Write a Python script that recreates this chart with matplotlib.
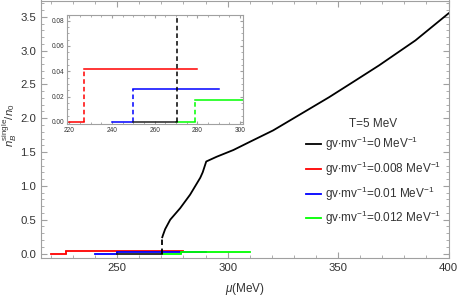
import numpy as np
import matplotlib
matplotlib.use("Agg")
import matplotlib.pyplot as plt
from matplotlib.ticker import MultipleLocator

plt.rcParams['font.family'] = ['Liberation Sans', 'DejaVu Sans']
plt.rcParams['mathtext.fontset'] = 'custom'
plt.rcParams['mathtext.rm'] = 'Liberation Sans'
plt.rcParams['mathtext.it'] = 'Liberation Sans:italic'

# step curves: [start, jump, jump, end] / [0, 0, height, height]
red_mu = [220, 226.7, 226.7, 280]
red_n = [0, 0, 0.042, 0.042]
blue_mu = [240, 250, 250, 290]
blue_n = [0, 0, 0.026, 0.026]
green_mu = [270, 278.7, 278.7, 310]
green_n = [0, 0, 0.017, 0.017]

# gv/mv = 0 curve
black_flat_mu = [250, 270.4]
black_flat_n = [0, 0]
black_jump_mu = [270.4, 270.4]
black_jump_n = [0, 0.24]
black_mu = [270.4, 270.7, 271.7, 274, 278.5, 283, 287.6, 288.7, 289.8, 290.3,
            295, 302.6, 310, 320.6, 333, 345.9, 357, 368.5, 385, 400]
black_n = [0.24, 0.27, 0.36, 0.5, 0.67, 0.87, 1.12, 1.2, 1.31, 1.36,
           1.43, 1.53, 1.65, 1.82, 2.06, 2.31, 2.54, 2.78, 3.15, 3.55]

labels = [r'gv$\cdot$mv$^{-1}$=0 MeV$^{-1}$',
          r'gv$\cdot$mv$^{-1}$=0.008 MeV$^{-1}$',
          r'gv$\cdot$mv$^{-1}$=0.01 MeV$^{-1}$',
          r'gv$\cdot$mv$^{-1}$=0.012 MeV$^{-1}$']

frame_col = '#a0a0a0'
text_col = '#333333'


def draw_steps(ax, lw):
    handles = []
    h, = ax.plot(black_mu, black_n, color='black', lw=lw, zorder=3)
    ax.plot(black_jump_mu, black_jump_n, color='black', lw=lw, ls=(0, (3, 2)), zorder=3)
    handles.append(h)
    for mu, n, c in [(red_mu, red_n, '#ff0000'), (blue_mu, blue_n, '#0000ff'),
                     (green_mu, green_n, '#00ff00')]:
        h, = ax.plot(mu[:2], n[:2], color=c, lw=lw)
        ax.plot(mu[1:3], n[1:3], color=c, lw=lw, ls=(0, (3, 2)))
        ax.plot(mu[2:], n[2:], color=c, lw=lw)
        handles.append(h)
    ax.plot(black_flat_mu, black_flat_n, color='#222222', lw=lw, zorder=2.5)
    return handles


def style_frame(ax, size, major, minor_x, minor_y, length):
    for s in ax.spines.values():
        s.set_color(frame_col)
        s.set_linewidth(0.8)
    ax.tick_params(which='both', direction='in', top=True, right=True,
                   colors=frame_col, labelcolor=text_col, labelsize=size)
    ax.tick_params(which='major', length=length)
    ax.tick_params(which='minor', length=length * 0.55)
    ax.xaxis.set_major_locator(MultipleLocator(major[0]))
    ax.yaxis.set_major_locator(MultipleLocator(major[1]))
    ax.xaxis.set_minor_locator(MultipleLocator(minor_x))
    ax.yaxis.set_minor_locator(MultipleLocator(minor_y))


fig = plt.figure(figsize=(4.6, 3.01), dpi=100)
ax = fig.add_axes([41 / 460, 1 - 257.7 / 301, (449 - 41) / 460, 257.2 / 301])
handles = draw_steps(ax, 1.3)
ax.set_xlim(215.5, 400.2)
ax.set_ylim(-0.062, 3.74)
style_frame(ax, 8.2, (50, 0.5), 10, 0.1, 4)
ax.set_xlabel(r'$\mu$(MeV)', fontsize=8.5, color=text_col, labelpad=6)
ax.set_ylabel(r'$n_B^{\mathrm{single}}/n_0$', fontsize=8.2, color=text_col)
ax.yaxis.set_label_coords(10 / 460, 1 - 125 / 301, transform=fig.transFigure)
ax.yaxis.label.set_va('center')

leg = ax.legend(handles, labels, title='T=5 MeV', frameon=False, fontsize=8.5,
                title_fontsize=8.5, loc='upper left', bbox_to_anchor=(295 / 460, 1 - 107 / 301),
                bbox_transform=fig.transFigure, handlelength=1.3, handletextpad=0.35,
                labelspacing=0.55)
leg._legend_box.sep = 4
for t in leg.get_texts():
    t.set_color(text_col)
leg.get_title().set_color(text_col)

ins = fig.add_axes([66.7 / 460, 1 - 124 / 301, (243 - 66.7) / 460, (124 - 14.7) / 301])
draw_steps(ins, 1.1)
ins.set_xlim(218.8, 301.4)
ins.set_ylim(-0.0016, 0.0847)
style_frame(ins, 4.7, (20, 0.02), 5, 0.005, 2.5)
ins.tick_params(pad=2)
ins.yaxis.set_major_formatter(matplotlib.ticker.FormatStrFormatter('%.2f'))

fig.savefig('out.png', dpi=100)
